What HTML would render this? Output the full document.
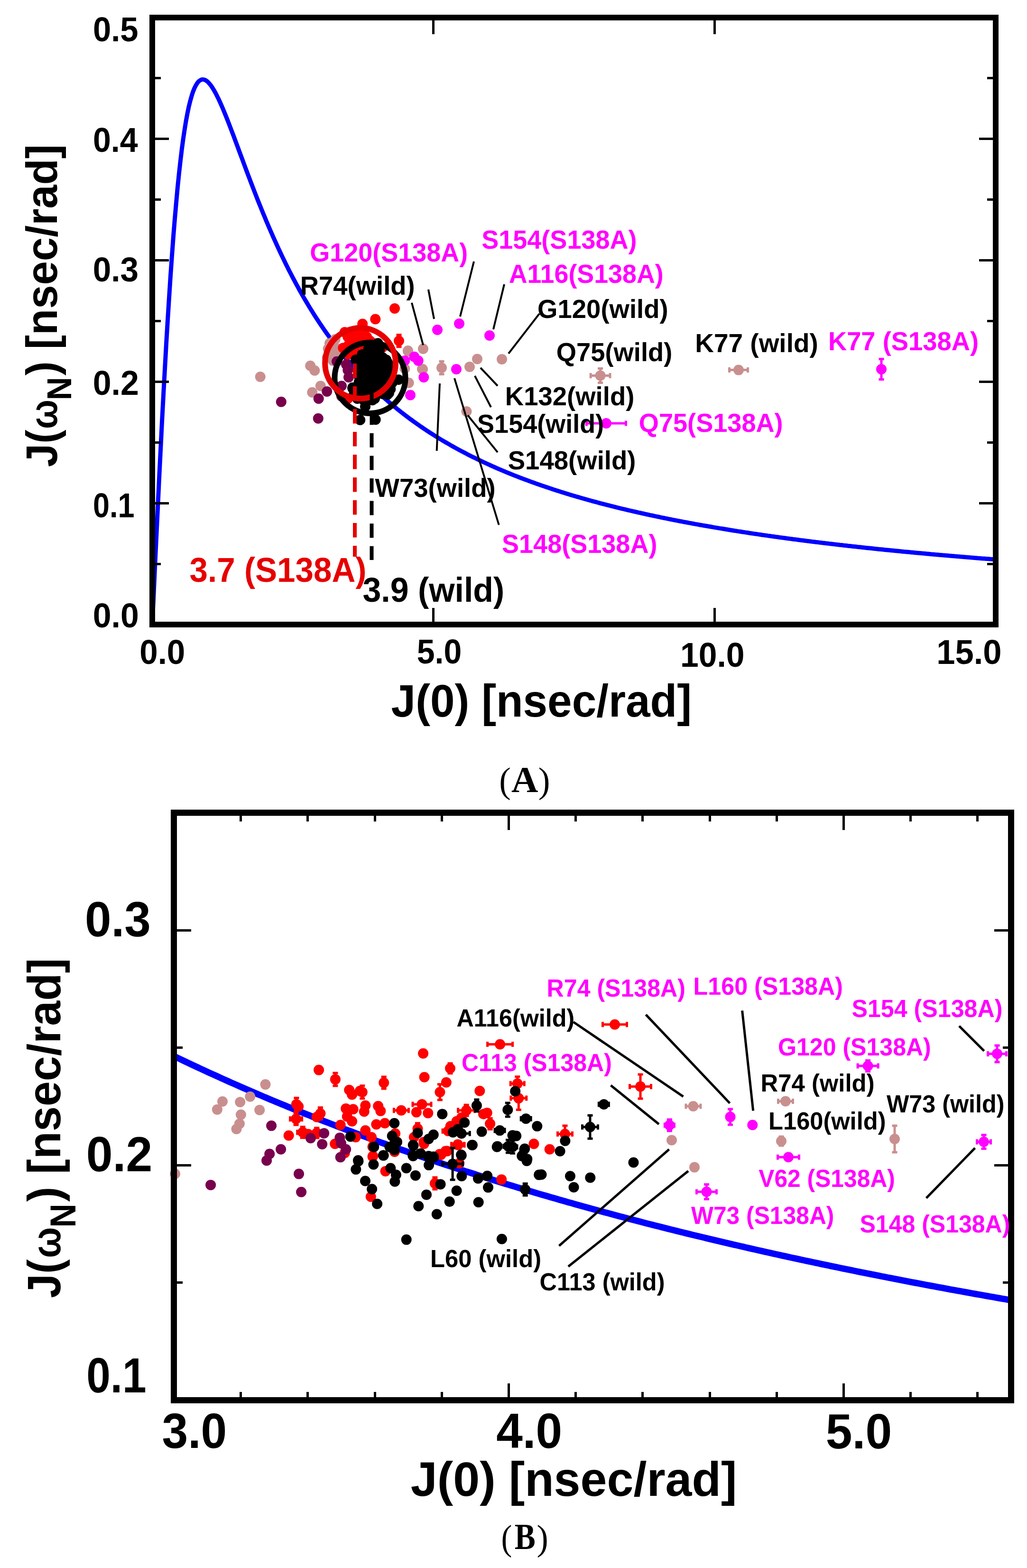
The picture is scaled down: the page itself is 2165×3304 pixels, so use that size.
<!DOCTYPE html>
<html><head><meta charset="utf-8"><title>Spectral density plots</title>
<style>
html,body{margin:0;padding:0;background:#fff;}
body{width:2165px;height:3304px;overflow:hidden;}
svg{display:block;}
text{font-family:"Liberation Sans",sans-serif;font-weight:bold;white-space:pre;}
.ser{font-family:"Liberation Serif",serif;font-weight:normal;}
.serb{font-family:"Liberation Serif",serif;font-weight:bold;}
</style></head><body>
<svg width="2165" height="3304" viewBox="0 0 2165 3304">
<rect width="2165" height="3304" fill="#fff"/>
<g id="plotA">
<clipPath id="clipA"><rect x="321.0" y="37.0" width="1778.0" height="1279.0"/></clipPath>
<polyline points="321.0,1316.0 324.0,1252.1 326.9,1188.5 329.9,1125.5 332.9,1063.3 335.8,1002.3 338.8,942.7 341.7,884.7 344.7,828.6 347.7,774.4 350.6,722.5 353.6,672.9 356.6,625.6 359.5,580.9 362.5,538.8 365.4,499.2 368.4,462.2 371.4,427.8 374.3,395.9 377.3,366.6 380.3,339.7 383.2,315.1 386.2,292.9 389.2,272.8 392.1,254.9 395.1,238.9 398.0,224.9 401.0,212.7 404.0,202.2 406.9,193.2 409.9,185.8 412.9,179.8 415.8,175.1 418.8,171.5 421.8,169.2 424.7,167.8 427.7,167.4 430.6,167.9 433.6,169.2 436.6,171.3 439.5,174.0 442.5,177.4 445.5,181.3 448.4,185.8 451.4,190.7 454.4,196.0 457.3,201.7 460.3,207.7 463.2,214.0 466.2,220.6 469.2,227.5 472.1,234.5 475.1,241.8 478.1,249.2 481.0,256.7 484.0,264.3 486.9,272.0 489.9,279.8 492.9,287.7 495.8,295.6 498.8,303.6 501.8,311.6 504.7,319.6 507.7,327.6 510.7,335.5 513.6,343.5 516.6,351.5 519.5,359.4 522.5,367.3 525.5,375.1 528.4,382.9 531.4,390.7 534.4,398.4 537.3,406.0 540.3,413.6 543.2,421.1 546.2,428.5 549.2,435.9 552.1,443.2 555.1,450.4 558.1,457.6 561.0,464.7 564.0,471.7 567.0,478.7 569.9,485.5 572.9,492.3 575.8,499.0 578.8,505.7 581.8,512.2 584.7,518.7 587.7,525.1 590.7,531.5 593.6,537.7 596.6,543.9 599.6,550.0 602.5,556.1 605.5,562.0 608.4,567.9 611.4,573.7 614.4,579.5 617.3,585.1 620.3,590.7 623.3,596.3 626.2,601.7 629.2,607.1 632.1,612.5 635.1,617.7 638.1,622.9 641.0,628.1 644.0,633.1 647.0,638.1 649.9,643.1 652.9,648.0 655.9,652.8 658.8,657.5 661.8,662.3 664.7,666.9 667.7,671.5 670.7,676.0 673.6,680.5 676.6,684.9 679.6,689.3 682.5,693.6 685.5,697.9 688.5,702.1 691.4,706.2 694.4,710.3 697.3,714.4 700.3,718.4 703.3,722.4 706.2,726.3 709.2,730.2 712.2,734.0 715.1,737.8 718.1,741.5 721.0,745.2 724.0,748.8 727.0,752.4 729.9,756.0 732.9,759.5 735.9,763.0 738.8,766.4 741.8,769.8 744.8,773.2 747.7,776.5 750.7,779.8 753.6,783.1 756.6,786.3 759.6,789.5 762.5,792.6 765.5,795.7 768.5,798.8 771.4,801.8 774.4,804.9 777.4,807.8 780.3,810.8 783.3,813.7 786.2,816.6 789.2,819.4 792.2,822.2 795.1,825.0 798.1,827.8 801.1,830.5 804.0,833.2 807.0,835.9 810.0,838.5 812.9,841.1 815.9,843.7 818.8,846.3 821.8,848.8 824.8,851.4 827.7,853.8 830.7,856.3 833.7,858.7 836.6,861.2 839.6,863.5 842.5,865.9 845.5,868.2 848.5,870.6 851.4,872.9 854.4,875.1 857.4,877.4 860.3,879.6 863.3,881.8 866.3,884.0 869.2,886.2 872.2,888.3 875.1,890.4 878.1,892.5 881.1,894.6 884.0,896.7 887.0,898.7 890.0,900.8 892.9,902.8 895.9,904.8 898.9,906.7 901.8,908.7 904.8,910.6 907.7,912.5 910.7,914.4 913.7,916.3 916.6,918.2 919.6,920.0 922.6,921.9 925.5,923.7 928.5,925.5 931.4,927.3 934.4,929.0 937.4,930.8 940.3,932.5 943.3,934.2 946.3,935.9 949.2,937.6 952.2,939.3 955.2,941.0 958.1,942.6 961.1,944.3 964.0,945.9 967.0,947.5 970.0,949.1 972.9,950.7 975.9,952.2 978.9,953.8 981.8,955.3 984.8,956.9 987.8,958.4 990.7,959.9 993.7,961.4 996.6,962.9 999.6,964.3 1002.6,965.8 1005.5,967.2 1008.5,968.7 1011.5,970.1 1014.4,971.5 1017.4,972.9 1020.3,974.3 1023.3,975.6 1026.3,977.0 1029.2,978.4 1032.2,979.7 1035.2,981.1 1038.1,982.4 1041.1,983.7 1044.1,985.0 1047.0,986.3 1050.0,987.6 1052.9,988.8 1055.9,990.1 1058.9,991.4 1061.8,992.6 1064.8,993.8 1067.8,995.1 1070.7,996.3 1073.7,997.5 1076.7,998.7 1079.6,999.9 1082.6,1001.1 1085.5,1002.3 1088.5,1003.4 1091.5,1004.6 1094.4,1005.7 1097.4,1006.9 1100.4,1008.0 1103.3,1009.1 1106.3,1010.2 1109.2,1011.3 1112.2,1012.4 1115.2,1013.5 1118.1,1014.6 1121.1,1015.7 1124.1,1016.8 1127.0,1017.8 1130.0,1018.9 1133.0,1019.9 1135.9,1021.0 1138.9,1022.0 1141.8,1023.0 1144.8,1024.1 1147.8,1025.1 1150.7,1026.1 1153.7,1027.1 1156.7,1028.1 1159.6,1029.0 1162.6,1030.0 1165.5,1031.0 1168.5,1032.0 1171.5,1032.9 1174.4,1033.9 1177.4,1034.8 1180.4,1035.8 1183.3,1036.7 1186.3,1037.6 1189.3,1038.5 1192.2,1039.5 1195.2,1040.4 1198.1,1041.3 1201.1,1042.2 1204.1,1043.1 1207.0,1044.0 1210.0,1044.8 1213.0,1045.7 1215.9,1046.6 1218.9,1047.4 1221.9,1048.3 1224.8,1049.2 1227.8,1050.0 1230.7,1050.8 1233.7,1051.7 1236.7,1052.5 1239.6,1053.3 1242.6,1054.2 1245.6,1055.0 1248.5,1055.8 1251.5,1056.6 1254.5,1057.4 1257.4,1058.2 1260.4,1059.0 1263.3,1059.8 1266.3,1060.6 1269.3,1061.3 1272.2,1062.1 1275.2,1062.9 1278.2,1063.7 1281.1,1064.4 1284.1,1065.2 1287.0,1065.9 1290.0,1066.7 1293.0,1067.4 1295.9,1068.1 1298.9,1068.9 1301.9,1069.6 1304.8,1070.3 1307.8,1071.1 1310.8,1071.8 1313.7,1072.5 1316.7,1073.2 1319.6,1073.9 1322.6,1074.6 1325.6,1075.3 1328.5,1076.0 1331.5,1076.7 1334.5,1077.4 1337.4,1078.0 1340.4,1078.7 1343.3,1079.4 1346.3,1080.1 1349.3,1080.7 1352.2,1081.4 1355.2,1082.0 1358.2,1082.7 1361.1,1083.3 1364.1,1084.0 1367.1,1084.6 1370.0,1085.3 1373.0,1085.9 1375.9,1086.5 1378.9,1087.2 1381.9,1087.8 1384.8,1088.4 1387.8,1089.0 1390.8,1089.7 1393.7,1090.3 1396.7,1090.9 1399.7,1091.5 1402.6,1092.1 1405.6,1092.7 1408.5,1093.3 1411.5,1093.9 1414.5,1094.5 1417.4,1095.1 1420.4,1095.7 1423.4,1096.2 1426.3,1096.8 1429.3,1097.4 1432.2,1098.0 1435.2,1098.5 1438.2,1099.1 1441.1,1099.7 1444.1,1100.2 1447.1,1100.8 1450.0,1101.3 1453.0,1101.9 1456.0,1102.4 1458.9,1103.0 1461.9,1103.5 1464.8,1104.1 1467.8,1104.6 1470.8,1105.1 1473.7,1105.7 1476.7,1106.2 1479.7,1106.7 1482.6,1107.3 1485.6,1107.8 1488.6,1108.3 1491.5,1108.8 1494.5,1109.3 1497.4,1109.8 1500.4,1110.3 1503.4,1110.9 1506.3,1111.4 1509.3,1111.9 1512.3,1112.4 1515.2,1112.9 1518.2,1113.4 1521.2,1113.8 1524.1,1114.3 1527.1,1114.8 1530.0,1115.3 1533.0,1115.8 1536.0,1116.3 1538.9,1116.8 1541.9,1117.2 1544.9,1117.7 1547.8,1118.2 1550.8,1118.6 1553.7,1119.1 1556.7,1119.6 1559.7,1120.0 1562.6,1120.5 1565.6,1121.0 1568.6,1121.4 1571.5,1121.9 1574.5,1122.3 1577.5,1122.8 1580.4,1123.2 1583.4,1123.7 1586.3,1124.1 1589.3,1124.6 1592.3,1125.0 1595.2,1125.4 1598.2,1125.9 1601.2,1126.3 1604.1,1126.7 1607.1,1127.2 1610.0,1127.6 1613.0,1128.0 1616.0,1128.4 1618.9,1128.9 1621.9,1129.3 1624.9,1129.7 1627.8,1130.1 1630.8,1130.5 1633.8,1131.0 1636.7,1131.4 1639.7,1131.8 1642.6,1132.2 1645.6,1132.6 1648.6,1133.0 1651.5,1133.4 1654.5,1133.8 1657.5,1134.2 1660.4,1134.6 1663.4,1135.0 1666.4,1135.4 1669.3,1135.8 1672.3,1136.2 1675.2,1136.5 1678.2,1136.9 1681.2,1137.3 1684.1,1137.7 1687.1,1138.1 1690.1,1138.5 1693.0,1138.8 1696.0,1139.2 1699.0,1139.6 1701.9,1140.0 1704.9,1140.3 1707.8,1140.7 1710.8,1141.1 1713.8,1141.5 1716.7,1141.8 1719.7,1142.2 1722.7,1142.5 1725.6,1142.9 1728.6,1143.3 1731.5,1143.6 1734.5,1144.0 1737.5,1144.3 1740.4,1144.7 1743.4,1145.0 1746.4,1145.4 1749.3,1145.8 1752.3,1146.1 1755.3,1146.4 1758.2,1146.8 1761.2,1147.1 1764.1,1147.5 1767.1,1147.8 1770.1,1148.2 1773.0,1148.5 1776.0,1148.8 1779.0,1149.2 1781.9,1149.5 1784.9,1149.8 1787.8,1150.2 1790.8,1150.5 1793.8,1150.8 1796.7,1151.2 1799.7,1151.5 1802.7,1151.8 1805.6,1152.1 1808.6,1152.5 1811.6,1152.8 1814.5,1153.1 1817.5,1153.4 1820.4,1153.7 1823.4,1154.1 1826.4,1154.4 1829.3,1154.7 1832.3,1155.0 1835.3,1155.3 1838.2,1155.6 1841.2,1155.9 1844.2,1156.2 1847.1,1156.6 1850.1,1156.9 1853.0,1157.2 1856.0,1157.5 1859.0,1157.8 1861.9,1158.1 1864.9,1158.4 1867.9,1158.7 1870.8,1159.0 1873.8,1159.3 1876.8,1159.6 1879.7,1159.9 1882.7,1160.1 1885.6,1160.4 1888.6,1160.7 1891.6,1161.0 1894.5,1161.3 1897.5,1161.6 1900.5,1161.9 1903.4,1162.2 1906.4,1162.5 1909.3,1162.7 1912.3,1163.0 1915.3,1163.3 1918.2,1163.6 1921.2,1163.9 1924.2,1164.1 1927.1,1164.4 1930.1,1164.7 1933.1,1165.0 1936.0,1165.2 1939.0,1165.5 1941.9,1165.8 1944.9,1166.1 1947.9,1166.3 1950.8,1166.6 1953.8,1166.9 1956.8,1167.1 1959.7,1167.4 1962.7,1167.7 1965.7,1167.9 1968.6,1168.2 1971.6,1168.5 1974.5,1168.7 1977.5,1169.0 1980.5,1169.3 1983.4,1169.5 1986.4,1169.8 1989.4,1170.0 1992.3,1170.3 1995.3,1170.5 1998.2,1170.8 2001.2,1171.1 2004.2,1171.3 2007.1,1171.6 2010.1,1171.8 2013.1,1172.1 2016.0,1172.3 2019.0,1172.6 2022.0,1172.8 2024.9,1173.1 2027.9,1173.3 2030.8,1173.5 2033.8,1173.8 2036.8,1174.0 2039.7,1174.3 2042.7,1174.5 2045.7,1174.8 2048.6,1175.0 2051.6,1175.2 2054.6,1175.5 2057.5,1175.7 2060.5,1176.0 2063.4,1176.2 2066.4,1176.4 2069.4,1176.7 2072.3,1176.9 2075.3,1177.1 2078.3,1177.4 2081.2,1177.6 2084.2,1177.8 2087.1,1178.1 2090.1,1178.3 2093.1,1178.5 2096.0,1178.7 2099.0,1179.0" fill="none" stroke="#0000ff" stroke-width="9" stroke-linejoin="round" clip-path="url(#clipA)"/>
<circle cx="892.0" cy="735.0" r="11" fill="#c98f8f"/>
<circle cx="860.0" cy="739.0" r="11" fill="#c98f8f"/>
<circle cx="891.0" cy="778.0" r="11" fill="#c98f8f"/>
<path d="M931.0 761.5V788.5M925.5 761.5H936.5M925.5 788.5H936.5" stroke="#c98f8f" stroke-width="5" fill="none"/>
<circle cx="931.0" cy="775.0" r="11" fill="#c98f8f"/>
<circle cx="990.0" cy="773.0" r="11" fill="#c98f8f"/>
<circle cx="1006.0" cy="756.5" r="11" fill="#c98f8f"/>
<circle cx="1058.0" cy="757.0" r="11" fill="#c98f8f"/>
<circle cx="983.5" cy="867.0" r="11" fill="#c98f8f"/>
<path d="M1245.2 791.4H1286.0M1245.2 785.9V796.9M1286.0 785.9V796.9" stroke="#c98f8f" stroke-width="5" fill="none"/>
<path d="M1265.6 776.4V806.4M1260.1 776.4H1271.1M1260.1 806.4H1271.1" stroke="#c98f8f" stroke-width="5" fill="none"/>
<circle cx="1265.6" cy="791.4" r="11" fill="#c98f8f"/>
<path d="M1537.5 779.6H1576.5M1537.5 774.1V785.1M1576.5 774.1V785.1" stroke="#c98f8f" stroke-width="5" fill="none"/>
<circle cx="1557.0" cy="779.6" r="11" fill="#c98f8f"/>
<circle cx="706.7" cy="715.0" r="11" fill="#c98f8f"/>
<circle cx="691.7" cy="735.0" r="11" fill="#c98f8f"/>
<circle cx="701.7" cy="760.0" r="11" fill="#c98f8f"/>
<circle cx="654.2" cy="770.8" r="11" fill="#c98f8f"/>
<circle cx="663.3" cy="780.8" r="11" fill="#c98f8f"/>
<circle cx="675.8" cy="813.3" r="11" fill="#c98f8f"/>
<circle cx="658.3" cy="826.7" r="11" fill="#c98f8f"/>
<circle cx="860.0" cy="740.0" r="11" fill="#c98f8f"/>
<circle cx="853.3" cy="776.7" r="11" fill="#c98f8f"/>
<circle cx="890.0" cy="777.5" r="11" fill="#c98f8f"/>
<circle cx="861.7" cy="806.7" r="11" fill="#c98f8f"/>
<circle cx="548.7" cy="794.0" r="11" fill="#c98f8f"/>
<circle cx="711.7" cy="735.0" r="11" fill="#c98f8f"/>
<circle cx="706.7" cy="746.7" r="11" fill="#c98f8f"/>
<circle cx="695.0" cy="723.3" r="11" fill="#c98f8f"/>
<circle cx="690.0" cy="753.3" r="11" fill="#c98f8f"/>
<circle cx="832.0" cy="650.0" r="11" fill="#ff0000"/>
<path d="M841.0 705.8V730.8M835.5 705.8H846.5M835.5 730.8H846.5" stroke="#ff0000" stroke-width="5" fill="none"/>
<circle cx="841.0" cy="718.3" r="11" fill="#ff0000"/>
<circle cx="764.2" cy="682.5" r="11" fill="#ff0000"/>
<circle cx="791.3" cy="672.5" r="11" fill="#ff0000"/>
<circle cx="726.7" cy="700.0" r="11" fill="#ff0000"/>
<circle cx="740.0" cy="715.0" r="11" fill="#ff0000"/>
<circle cx="756.7" cy="710.0" r="11" fill="#ff0000"/>
<circle cx="773.3" cy="710.0" r="11" fill="#ff0000"/>
<circle cx="723.3" cy="733.3" r="11" fill="#ff0000"/>
<circle cx="735.0" cy="726.7" r="11" fill="#ff0000"/>
<circle cx="765.0" cy="726.7" r="11" fill="#ff0000"/>
<circle cx="748.3" cy="740.0" r="11" fill="#ff0000"/>
<circle cx="733.3" cy="840.0" r="11" fill="#ff0000"/>
<circle cx="786.7" cy="723.3" r="11" fill="#ff0000"/>
<circle cx="806.7" cy="731.7" r="11" fill="#ff0000"/>
<circle cx="790.0" cy="801.7" r="11" fill="#ff0000"/>
<circle cx="733.3" cy="710.0" r="11" fill="#ff0000"/>
<circle cx="746.7" cy="701.7" r="11" fill="#ff0000"/>
<circle cx="766.7" cy="698.3" r="11" fill="#ff0000"/>
<circle cx="780.0" cy="718.3" r="11" fill="#ff0000"/>
<circle cx="753.3" cy="723.3" r="11" fill="#ff0000"/>
<circle cx="733.3" cy="746.7" r="11" fill="#ff0000"/>
<circle cx="743.3" cy="731.7" r="11" fill="#ff0000"/>
<circle cx="710.0" cy="761.7" r="11" fill="#78004c"/>
<circle cx="730.0" cy="768.3" r="11" fill="#78004c"/>
<circle cx="733.3" cy="780.0" r="11" fill="#78004c"/>
<circle cx="735.0" cy="795.0" r="11" fill="#78004c"/>
<circle cx="720.0" cy="813.3" r="11" fill="#78004c"/>
<circle cx="689.2" cy="825.0" r="11" fill="#78004c"/>
<circle cx="671.7" cy="840.0" r="11" fill="#78004c"/>
<circle cx="670.8" cy="881.7" r="11" fill="#78004c"/>
<circle cx="720.0" cy="835.0" r="11" fill="#78004c"/>
<circle cx="592.8" cy="846.7" r="11" fill="#78004c"/>
<circle cx="922.0" cy="695.0" r="11" fill="#ff00ff"/>
<circle cx="968.0" cy="682.0" r="11" fill="#ff00ff"/>
<circle cx="1032.0" cy="707.0" r="11" fill="#ff00ff"/>
<circle cx="962.0" cy="778.0" r="11" fill="#ff00ff"/>
<path d="M1236.5 892.0H1319.5M1236.5 886.5V897.5M1319.5 886.5V897.5" stroke="#ff00ff" stroke-width="5" fill="none"/>
<circle cx="1278.0" cy="892.0" r="11" fill="#ff00ff"/>
<path d="M1858.0 756.5V799.5M1852.5 756.5H1863.5M1852.5 799.5H1863.5" stroke="#ff00ff" stroke-width="5" fill="none"/>
<circle cx="1858.0" cy="778.0" r="11" fill="#ff00ff"/>
<circle cx="853.3" cy="760.0" r="11" fill="#ff00ff"/>
<circle cx="873.3" cy="751.7" r="11" fill="#ff00ff"/>
<circle cx="881.7" cy="760.0" r="11" fill="#ff00ff"/>
<circle cx="893.3" cy="795.0" r="11" fill="#ff00ff"/>
<circle cx="865.0" cy="832.5" r="11" fill="#ff00ff"/>
<circle cx="796.7" cy="723.3" r="11" fill="#000000"/>
<circle cx="766.7" cy="746.7" r="11" fill="#000000"/>
<circle cx="750.0" cy="758.3" r="11" fill="#000000"/>
<circle cx="783.3" cy="740.0" r="11" fill="#000000"/>
<circle cx="800.0" cy="738.3" r="11" fill="#000000"/>
<circle cx="806.7" cy="753.3" r="11" fill="#000000"/>
<circle cx="756.7" cy="773.3" r="11" fill="#000000"/>
<circle cx="773.3" cy="763.3" r="11" fill="#000000"/>
<circle cx="790.0" cy="760.0" r="11" fill="#000000"/>
<circle cx="806.7" cy="768.3" r="11" fill="#000000"/>
<circle cx="816.7" cy="763.3" r="11" fill="#000000"/>
<circle cx="760.0" cy="790.0" r="11" fill="#000000"/>
<circle cx="776.7" cy="783.3" r="11" fill="#000000"/>
<circle cx="793.3" cy="780.0" r="11" fill="#000000"/>
<circle cx="810.0" cy="786.7" r="11" fill="#000000"/>
<circle cx="816.7" cy="776.7" r="11" fill="#000000"/>
<circle cx="756.7" cy="806.7" r="11" fill="#000000"/>
<circle cx="773.3" cy="803.3" r="11" fill="#000000"/>
<circle cx="796.7" cy="793.3" r="11" fill="#000000"/>
<circle cx="806.7" cy="803.3" r="11" fill="#000000"/>
<circle cx="743.3" cy="818.3" r="11" fill="#000000"/>
<circle cx="760.0" cy="823.3" r="11" fill="#000000"/>
<circle cx="776.7" cy="820.0" r="11" fill="#000000"/>
<circle cx="796.7" cy="816.7" r="11" fill="#000000"/>
<circle cx="813.3" cy="816.7" r="11" fill="#000000"/>
<circle cx="753.3" cy="836.7" r="11" fill="#000000"/>
<circle cx="766.7" cy="843.3" r="11" fill="#000000"/>
<circle cx="785.0" cy="843.3" r="11" fill="#000000"/>
<circle cx="806.7" cy="830.0" r="11" fill="#000000"/>
<circle cx="823.3" cy="820.0" r="11" fill="#000000"/>
<circle cx="840.0" cy="800.0" r="11" fill="#000000"/>
<circle cx="816.7" cy="831.7" r="11" fill="#000000"/>
<circle cx="759.2" cy="885.0" r="11" fill="#000000"/>
<circle cx="791.7" cy="884.2" r="11" fill="#000000"/>
<circle cx="770.0" cy="856.7" r="11" fill="#000000"/>
<circle cx="826.7" cy="806.7" r="11" fill="#000000"/>
<circle cx="776.7" cy="735.0" r="11" fill="#000000"/>
<circle cx="785.8" cy="735.0" r="11" fill="#000000"/>
<circle cx="795.0" cy="735.0" r="11" fill="#000000"/>
<circle cx="763.3" cy="746.7" r="11" fill="#000000"/>
<circle cx="772.5" cy="746.7" r="11" fill="#000000"/>
<circle cx="781.7" cy="746.7" r="11" fill="#000000"/>
<circle cx="790.8" cy="746.7" r="11" fill="#000000"/>
<circle cx="800.0" cy="746.7" r="11" fill="#000000"/>
<circle cx="750.0" cy="758.3" r="11" fill="#000000"/>
<circle cx="759.2" cy="758.3" r="11" fill="#000000"/>
<circle cx="768.3" cy="758.3" r="11" fill="#000000"/>
<circle cx="777.5" cy="758.3" r="11" fill="#000000"/>
<circle cx="786.7" cy="758.3" r="11" fill="#000000"/>
<circle cx="795.8" cy="758.3" r="11" fill="#000000"/>
<circle cx="805.0" cy="758.3" r="11" fill="#000000"/>
<circle cx="814.2" cy="758.3" r="11" fill="#000000"/>
<circle cx="756.7" cy="770.0" r="11" fill="#000000"/>
<circle cx="765.8" cy="770.0" r="11" fill="#000000"/>
<circle cx="775.0" cy="770.0" r="11" fill="#000000"/>
<circle cx="784.2" cy="770.0" r="11" fill="#000000"/>
<circle cx="793.3" cy="770.0" r="11" fill="#000000"/>
<circle cx="802.5" cy="770.0" r="11" fill="#000000"/>
<circle cx="811.7" cy="770.0" r="11" fill="#000000"/>
<circle cx="820.8" cy="770.0" r="11" fill="#000000"/>
<circle cx="756.7" cy="781.7" r="11" fill="#000000"/>
<circle cx="765.8" cy="781.7" r="11" fill="#000000"/>
<circle cx="775.0" cy="781.7" r="11" fill="#000000"/>
<circle cx="784.2" cy="781.7" r="11" fill="#000000"/>
<circle cx="793.3" cy="781.7" r="11" fill="#000000"/>
<circle cx="802.5" cy="781.7" r="11" fill="#000000"/>
<circle cx="811.7" cy="781.7" r="11" fill="#000000"/>
<circle cx="820.8" cy="781.7" r="11" fill="#000000"/>
<circle cx="756.7" cy="793.3" r="11" fill="#000000"/>
<circle cx="765.8" cy="793.3" r="11" fill="#000000"/>
<circle cx="775.0" cy="793.3" r="11" fill="#000000"/>
<circle cx="784.2" cy="793.3" r="11" fill="#000000"/>
<circle cx="793.3" cy="793.3" r="11" fill="#000000"/>
<circle cx="802.5" cy="793.3" r="11" fill="#000000"/>
<circle cx="811.7" cy="793.3" r="11" fill="#000000"/>
<circle cx="756.7" cy="805.0" r="11" fill="#000000"/>
<circle cx="765.8" cy="805.0" r="11" fill="#000000"/>
<circle cx="775.0" cy="805.0" r="11" fill="#000000"/>
<circle cx="784.2" cy="805.0" r="11" fill="#000000"/>
<circle cx="793.3" cy="805.0" r="11" fill="#000000"/>
<circle cx="802.5" cy="805.0" r="11" fill="#000000"/>
<circle cx="743.3" cy="816.7" r="11" fill="#000000"/>
<circle cx="752.5" cy="816.7" r="11" fill="#000000"/>
<circle cx="761.7" cy="816.7" r="11" fill="#000000"/>
<circle cx="770.8" cy="816.7" r="11" fill="#000000"/>
<circle cx="780.0" cy="816.7" r="11" fill="#000000"/>
<circle cx="789.2" cy="816.7" r="11" fill="#000000"/>
<circle cx="798.3" cy="816.7" r="11" fill="#000000"/>
<circle cx="807.5" cy="816.7" r="11" fill="#000000"/>
<circle cx="816.7" cy="816.7" r="11" fill="#000000"/>
<circle cx="746.7" cy="828.3" r="11" fill="#000000"/>
<circle cx="755.8" cy="828.3" r="11" fill="#000000"/>
<circle cx="765.0" cy="828.3" r="11" fill="#000000"/>
<circle cx="774.2" cy="828.3" r="11" fill="#000000"/>
<circle cx="783.3" cy="828.3" r="11" fill="#000000"/>
<circle cx="792.5" cy="828.3" r="11" fill="#000000"/>
<circle cx="801.7" cy="828.3" r="11" fill="#000000"/>
<circle cx="810.8" cy="828.3" r="11" fill="#000000"/>
<circle cx="820.0" cy="828.3" r="11" fill="#000000"/>
<circle cx="753.3" cy="840.0" r="11" fill="#000000"/>
<circle cx="762.5" cy="840.0" r="11" fill="#000000"/>
<circle cx="771.7" cy="840.0" r="11" fill="#000000"/>
<circle cx="780.8" cy="840.0" r="11" fill="#000000"/>
<circle cx="790.0" cy="840.0" r="11" fill="#000000"/>
<line x1="868" y1="638" x2="892" y2="727" stroke="#000" stroke-width="4"/>
<line x1="903" y1="610" x2="915" y2="672" stroke="#000" stroke-width="4"/>
<line x1="999" y1="551" x2="970" y2="667" stroke="#000" stroke-width="4"/>
<line x1="1063" y1="599" x2="1040" y2="694" stroke="#000" stroke-width="4"/>
<line x1="1137" y1="661" x2="1072" y2="745" stroke="#000" stroke-width="4"/>
<line x1="1013" y1="775" x2="1049" y2="813" stroke="#000" stroke-width="4"/>
<line x1="1001" y1="792" x2="1035" y2="858" stroke="#000" stroke-width="4"/>
<line x1="927" y1="808" x2="920.7" y2="950" stroke="#000" stroke-width="4"/>
<line x1="958" y1="797" x2="1051.7" y2="1106" stroke="#000" stroke-width="4"/>
<line x1="986" y1="875" x2="1049" y2="953" stroke="#000" stroke-width="4"/>
<circle cx="780" cy="796.3" r="74.6" fill="none" stroke="#000" stroke-width="12"/>
<circle cx="759.6" cy="765.4" r="74.4" fill="none" stroke="#e60000" stroke-width="12"/>
<line x1="783.5" y1="817.6" x2="783.5" y2="1180" stroke="#000" stroke-width="8" stroke-dasharray="30 17.6"/>
<line x1="748" y1="766" x2="748" y2="1173" stroke="#e60000" stroke-width="8" stroke-dasharray="30.5 17.5"/>
<rect x="321.0" y="37.0" width="1778.0" height="1279.0" fill="none" stroke="#000" stroke-width="12" shape-rendering="crispEdges"/>
<path d="M321.0 1188.1h18M2099.0 1188.1h-18M321.0 1060.2h35M2099.0 1060.2h-35M321.0 932.3h18M2099.0 932.3h-18M321.0 804.4h35M2099.0 804.4h-35M321.0 676.5h18M2099.0 676.5h-18M321.0 548.6h35M2099.0 548.6h-35M321.0 420.7h18M2099.0 420.7h-18M321.0 292.8h35M2099.0 292.8h-35M321.0 164.9h18M2099.0 164.9h-18M913.7 1316.0v-35M913.7 37.0v35M1506.3 1316.0v-35M1506.3 37.0v35" stroke="#000" stroke-width="5" fill="none" shape-rendering="crispEdges"/>
<text transform="translate(195.9,87.3) scale(0.9478,1)" font-size="72.6" fill="#000">0.5</text>
<text transform="translate(195.9,319.6) scale(0.9381,1)" font-size="72.6" fill="#000">0.4</text>
<text transform="translate(195.8,593.0) scale(0.9542,1)" font-size="72.6" fill="#000">0.3</text>
<text transform="translate(195.7,831.7) scale(0.9621,1)" font-size="72.6" fill="#000">0.2</text>
<text transform="translate(196.0,1090.0) scale(0.8676,1)" font-size="72.6" fill="#000">0.1</text>
<text transform="translate(195.7,1322.3) scale(0.9621,1)" font-size="72.6" fill="#000">0.0</text>
<text transform="translate(294.2,1398.7) scale(0.9526,1)" font-size="72.6" fill="#000">0.0</text>
<text transform="translate(878.8,1398.0) scale(0.9360,1)" font-size="72.6" fill="#000">5.0</text>
<text transform="translate(1433.9,1404.7) scale(0.9599,1)" font-size="72.6" fill="#000">10.0</text>
<text transform="translate(1974.3,1398.5) scale(0.9718,1)" font-size="72.6" fill="#000">15.0</text>
<text transform="translate(824.6,1509.5) scale(0.9613,1)" font-size="96.4" fill="#000">J(0) [nsec/rad]</text>
<text transform="translate(120.0,984.0) rotate(-90) scale(0.9454,1)" font-size="93.5" fill="#000">J(</text>
<text transform="translate(120.2,903.9) rotate(-90) scale(0.9087,1)" font-size="80.7" fill="#000">ω</text>
<text transform="translate(149.9,843.3) rotate(-90) scale(0.9295,1)" font-size="72.7" fill="#000">N</text>
<text transform="translate(120.0,791.2) rotate(-90) scale(0.9665,1)" font-size="93.5" fill="#000">) [nsec/rad]</text>
<text class="ser" transform="translate(1052.3,1669.8) scale(0.9697,1)" font-size="76.0" fill="#000">(</text>
<text class="serb" transform="translate(1077.9,1668.5) scale(1.0016,1)" font-size="78.0" fill="#000">A</text>
<text class="ser" transform="translate(1134.8,1669.8) scale(0.9807,1)" font-size="76.0" fill="#000">)</text>
<text transform="translate(653.2,550.5) scale(0.9639,1)" font-size="56" fill="#ff00ff">G120(S138A)</text>
<text transform="translate(632.8,621.0) scale(0.9718,1)" font-size="56" fill="#000">R74(wild)</text>
<text transform="translate(1015.2,524.3) scale(0.9649,1)" font-size="56" fill="#ff00ff">S154(S138A)</text>
<text transform="translate(1072.7,596.2) scale(0.9613,1)" font-size="56" fill="#ff00ff">A116(S138A)</text>
<text transform="translate(1133.1,669.6) scale(0.9731,1)" font-size="56" fill="#000">G120(wild)</text>
<text transform="translate(1172.8,760.8) scale(0.9702,1)" font-size="56" fill="#000">Q75(wild)</text>
<text transform="translate(1465.3,741.5) scale(0.9811,1)" font-size="56" fill="#000">K77 (wild)</text>
<text transform="translate(1745.9,737.7) scale(0.9707,1)" font-size="56" fill="#ff00ff">K77 (S138A)</text>
<text transform="translate(1064.8,853.8) scale(0.9732,1)" font-size="56" fill="#000">K132(wild)</text>
<text transform="translate(1006.1,911.5) scale(0.9642,1)" font-size="56" fill="#000">S154(wild)</text>
<text transform="translate(1346.8,909.6) scale(0.9668,1)" font-size="56" fill="#ff00ff">Q75(S138A)</text>
<text transform="translate(1070.7,988.5) scale(0.9742,1)" font-size="56" fill="#000">S148(wild)</text>
<text transform="translate(790.5,1046.5) scale(0.9725,1)" font-size="56" fill="#000">W73(wild)</text>
<text transform="translate(1058.0,1165.4) scale(0.9652,1)" font-size="56" fill="#ff00ff">S148(S138A)</text>
<text transform="translate(399.6,1226.3) scale(0.9607,1)" font-size="72" fill="#e60000">3.7 (S138A)</text>
<text transform="translate(764.4,1268.2) scale(0.9704,1)" font-size="72" fill="#000">3.9 (wild)</text>
</g>
<g id="plotB">
<clipPath id="clipB"><rect x="366.5" y="1712.5" width="1765.0" height="1238.0"/></clipPath>
<polyline points="295.9,2190.4 302.3,2193.6 308.6,2196.8 315.0,2200.0 321.3,2203.2 327.7,2206.3 334.0,2209.5 340.4,2212.6 346.7,2215.7 353.1,2218.8 359.4,2221.9 365.8,2224.9 372.1,2228.0 378.5,2231.0 384.9,2234.1 391.2,2237.1 397.6,2240.1 403.9,2243.1 410.3,2246.1 416.6,2249.0 423.0,2252.0 429.3,2254.9 435.7,2257.8 442.0,2260.8 448.4,2263.7 454.8,2266.5 461.1,2269.4 467.5,2272.3 473.8,2275.1 480.2,2278.0 486.5,2280.8 492.9,2283.6 499.2,2286.4 505.6,2289.2 511.9,2292.0 518.3,2294.7 524.6,2297.5 531.0,2300.2 537.4,2303.0 543.7,2305.7 550.1,2308.4 556.4,2311.1 562.8,2313.8 569.1,2316.4 575.5,2319.1 581.8,2321.7 588.2,2324.4 594.5,2327.0 600.9,2329.6 607.2,2332.2 613.6,2334.8 620.0,2337.4 626.3,2340.0 632.7,2342.5 639.0,2345.1 645.4,2347.6 651.7,2350.1 658.1,2352.7 664.4,2355.2 670.8,2357.7 677.1,2360.2 683.5,2362.6 689.8,2365.1 696.2,2367.5 702.6,2370.0 708.9,2372.4 715.3,2374.9 721.6,2377.3 728.0,2379.7 734.3,2382.1 740.7,2384.4 747.0,2386.8 753.4,2389.2 759.7,2391.5 766.1,2393.9 772.4,2396.2 778.8,2398.6 785.2,2400.9 791.5,2403.2 797.9,2405.5 804.2,2407.8 810.6,2410.0 816.9,2412.3 823.3,2414.6 829.6,2416.8 836.0,2419.1 842.3,2421.3 848.7,2423.5 855.1,2425.7 861.4,2428.0 867.8,2430.2 874.1,2432.3 880.5,2434.5 886.8,2436.7 893.2,2438.9 899.5,2441.0 905.9,2443.2 912.2,2445.3 918.6,2447.4 924.9,2449.5 931.3,2451.7 937.7,2453.8 944.0,2455.9 950.4,2457.9 956.7,2460.0 963.1,2462.1 969.4,2464.2 975.8,2466.2 982.1,2468.3 988.5,2470.3 994.8,2472.3 1001.2,2474.3 1007.5,2476.4 1013.9,2478.4 1020.3,2480.4 1026.6,2482.4 1033.0,2484.3 1039.3,2486.3 1045.7,2488.3 1052.0,2490.3 1058.4,2492.2 1064.7,2494.2 1071.1,2496.1 1077.4,2498.0 1083.8,2499.9 1090.1,2501.9 1096.5,2503.8 1102.9,2505.7 1109.2,2507.6 1115.6,2509.5 1121.9,2511.3 1128.3,2513.2 1134.6,2515.1 1141.0,2516.9 1147.3,2518.8 1153.7,2520.6 1160.0,2522.5 1166.4,2524.3 1172.8,2526.1 1179.1,2527.9 1185.5,2529.8 1191.8,2531.6 1198.2,2533.4 1204.5,2535.1 1210.9,2536.9 1217.2,2538.7 1223.6,2540.5 1229.9,2542.2 1236.3,2544.0 1242.6,2545.8 1249.0,2547.5 1255.4,2549.2 1261.7,2551.0 1268.1,2552.7 1274.4,2554.4 1280.8,2556.1 1287.1,2557.8 1293.5,2559.5 1299.8,2561.2 1306.2,2562.9 1312.5,2564.6 1318.9,2566.3 1325.2,2568.0 1331.6,2569.6 1338.0,2571.3 1344.3,2572.9 1350.7,2574.6 1357.0,2576.2 1363.4,2577.9 1369.7,2579.5 1376.1,2581.1 1382.4,2582.7 1388.8,2584.3 1395.1,2585.9 1401.5,2587.5 1407.8,2589.1 1414.2,2590.7 1420.6,2592.3 1426.9,2593.9 1433.3,2595.5 1439.6,2597.0 1446.0,2598.6 1452.3,2600.1 1458.7,2601.7 1465.0,2603.2 1471.4,2604.8 1477.7,2606.3 1484.1,2607.8 1490.5,2609.4 1496.8,2610.9 1503.2,2612.4 1509.5,2613.9 1515.9,2615.4 1522.2,2616.9 1528.6,2618.4 1534.9,2619.9 1541.3,2621.4 1547.6,2622.8 1554.0,2624.3 1560.3,2625.8 1566.7,2627.2 1573.1,2628.7 1579.4,2630.1 1585.8,2631.6 1592.1,2633.0 1598.5,2634.5 1604.8,2635.9 1611.2,2637.3 1617.5,2638.8 1623.9,2640.2 1630.2,2641.6 1636.6,2643.0 1642.9,2644.4 1649.3,2645.8 1655.7,2647.2 1662.0,2648.6 1668.4,2650.0 1674.7,2651.3 1681.1,2652.7 1687.4,2654.1 1693.8,2655.5 1700.1,2656.8 1706.5,2658.2 1712.8,2659.5 1719.2,2660.9 1725.5,2662.2 1731.9,2663.6 1738.3,2664.9 1744.6,2666.2 1751.0,2667.6 1757.3,2668.9 1763.7,2670.2 1770.0,2671.5 1776.4,2672.8 1782.7,2674.1 1789.1,2675.4 1795.4,2676.7 1801.8,2678.0 1808.2,2679.3 1814.5,2680.6 1820.9,2681.9 1827.2,2683.1 1833.6,2684.4 1839.9,2685.7 1846.3,2686.9 1852.6,2688.2 1859.0,2689.5 1865.3,2690.7 1871.7,2692.0 1878.0,2693.2 1884.4,2694.4 1890.8,2695.7 1897.1,2696.9 1903.5,2698.1 1909.8,2699.4 1916.2,2700.6 1922.5,2701.8 1928.9,2703.0 1935.2,2704.2 1941.6,2705.4 1947.9,2706.6 1954.3,2707.8 1960.6,2709.0 1967.0,2710.2 1973.4,2711.4 1979.7,2712.6 1986.1,2713.7 1992.4,2714.9 1998.8,2716.1 2005.1,2717.3 2011.5,2718.4 2017.8,2719.6 2024.2,2720.7 2030.5,2721.9 2036.9,2723.0 2043.2,2724.2 2049.6,2725.3 2056.0,2726.5 2062.3,2727.6 2068.7,2728.7 2075.0,2729.9 2081.4,2731.0 2087.7,2732.1 2094.1,2733.2 2100.4,2734.4 2106.8,2735.5 2113.1,2736.6 2119.5,2737.7 2125.9,2738.8 2132.2,2739.9 2138.6,2741.0 2144.9,2742.1 2151.3,2743.2 2157.6,2744.2 2164.0,2745.3 2170.3,2746.4 2176.7,2747.5 2183.0,2748.5 2189.4,2749.6 2195.7,2750.7 2202.1,2751.7" fill="none" stroke="#0000ff" stroke-width="13.5" stroke-linejoin="round" clip-path="url(#clipB)"/>
<g clip-path="url(#clipB)">
</g>
<circle cx="559.5" cy="2285.1" r="11" fill="#c98f8f"/>
<circle cx="527.2" cy="2310.8" r="11" fill="#c98f8f"/>
<circle cx="469.0" cy="2321.0" r="11" fill="#c98f8f"/>
<circle cx="506.2" cy="2322.3" r="11" fill="#c98f8f"/>
<circle cx="457.9" cy="2337.9" r="11" fill="#c98f8f"/>
<circle cx="547.2" cy="2339.0" r="11" fill="#c98f8f"/>
<circle cx="507.9" cy="2348.7" r="11" fill="#c98f8f"/>
<circle cx="504.9" cy="2367.9" r="11" fill="#c98f8f"/>
<circle cx="498.5" cy="2379.0" r="11" fill="#c98f8f"/>
<circle cx="369.0" cy="2473.5" r="11" fill="#c98f8f"/>
<path d="M1445.9 2331.0H1476.9M1445.9 2325.5V2336.5M1476.9 2325.5V2336.5" stroke="#c98f8f" stroke-width="5" fill="none"/>
<circle cx="1461.4" cy="2331.0" r="11" fill="#c98f8f"/>
<circle cx="1416.0" cy="2402.5" r="11" fill="#c98f8f"/>
<circle cx="1464.0" cy="2459.6" r="11" fill="#c98f8f"/>
<path d="M1640.5 2320.5H1671.5M1640.5 2315.0V2326.0M1671.5 2315.0V2326.0" stroke="#c98f8f" stroke-width="5" fill="none"/>
<circle cx="1656.0" cy="2320.5" r="11" fill="#c98f8f"/>
<path d="M1647.0 2395.0V2414.0M1641.5 2395.0H1652.5M1641.5 2414.0H1652.5" stroke="#c98f8f" stroke-width="5" fill="none"/>
<circle cx="1647.0" cy="2404.5" r="11" fill="#c98f8f"/>
<path d="M1886.0 2372.0V2428.0M1880.5 2372.0H1891.5M1880.5 2428.0H1891.5" stroke="#c98f8f" stroke-width="5" fill="none"/>
<circle cx="1886.0" cy="2400.0" r="11" fill="#c98f8f"/>
<circle cx="672.1" cy="2254.6" r="11" fill="#ff0000"/>
<path d="M706.9 2260.9V2287.9M701.4 2260.9H712.4M701.4 2287.9H712.4" stroke="#ff0000" stroke-width="5" fill="none"/>
<circle cx="706.9" cy="2274.4" r="11" fill="#ff0000"/>
<circle cx="736.2" cy="2296.7" r="11" fill="#ff0000"/>
<circle cx="742.1" cy="2306.4" r="11" fill="#ff0000"/>
<path d="M624.9 2313.4V2340.4M619.4 2313.4H630.4M619.4 2340.4H630.4" stroke="#ff0000" stroke-width="5" fill="none"/>
<circle cx="624.9" cy="2326.9" r="11" fill="#ff0000"/>
<circle cx="629.2" cy="2331.5" r="11" fill="#ff0000"/>
<path d="M675.4 2333.7V2358.7M669.9 2333.7H680.9M669.9 2358.7H680.9" stroke="#ff0000" stroke-width="5" fill="none"/>
<circle cx="675.4" cy="2346.2" r="11" fill="#ff0000"/>
<circle cx="667.7" cy="2353.8" r="11" fill="#ff0000"/>
<path d="M611.6 2357.7H636.6M611.6 2352.2V2363.2M636.6 2352.2V2363.2" stroke="#ff0000" stroke-width="5" fill="none"/>
<path d="M624.1 2345.2V2370.2M618.6 2345.2H629.6M618.6 2370.2H629.6" stroke="#ff0000" stroke-width="5" fill="none"/>
<circle cx="624.1" cy="2357.7" r="11" fill="#ff0000"/>
<circle cx="608.7" cy="2392.8" r="11" fill="#ff0000"/>
<path d="M626.7 2385.9H649.7M626.7 2380.4V2391.4M649.7 2380.4V2391.4" stroke="#ff0000" stroke-width="5" fill="none"/>
<path d="M638.2 2374.4V2397.4M632.7 2374.4H643.7M632.7 2397.4H643.7" stroke="#ff0000" stroke-width="5" fill="none"/>
<circle cx="638.2" cy="2385.9" r="11" fill="#ff0000"/>
<circle cx="649.7" cy="2389.7" r="11" fill="#ff0000"/>
<path d="M667.7 2376.7V2397.7M662.2 2376.7H673.2M662.2 2397.7H673.2" stroke="#ff0000" stroke-width="5" fill="none"/>
<circle cx="667.7" cy="2387.2" r="11" fill="#ff0000"/>
<circle cx="729.2" cy="2335.9" r="11" fill="#ff0000"/>
<circle cx="744.6" cy="2337.2" r="11" fill="#ff0000"/>
<circle cx="731.8" cy="2352.6" r="11" fill="#ff0000"/>
<circle cx="742.1" cy="2362.8" r="11" fill="#ff0000"/>
<circle cx="717.7" cy="2370.5" r="11" fill="#ff0000"/>
<circle cx="706.2" cy="2410.3" r="11" fill="#ff0000"/>
<circle cx="749.7" cy="2396.2" r="11" fill="#ff0000"/>
<circle cx="726.7" cy="2429.5" r="11" fill="#ff0000"/>
<circle cx="758.7" cy="2298.7" r="11" fill="#ff0000"/>
<path d="M1027.6 2200.5H1080.6M1027.6 2195.0V2206.0M1080.6 2195.0V2206.0" stroke="#ff0000" stroke-width="5" fill="none"/>
<circle cx="1054.1" cy="2200.5" r="11" fill="#ff0000"/>
<circle cx="892.1" cy="2219.7" r="11" fill="#ff0000"/>
<path d="M949.0 2240.8V2261.8M943.5 2240.8H954.5M943.5 2261.8H954.5" stroke="#ff0000" stroke-width="5" fill="none"/>
<circle cx="949.0" cy="2251.3" r="11" fill="#ff0000"/>
<circle cx="894.6" cy="2269.7" r="11" fill="#ff0000"/>
<circle cx="940.8" cy="2280.8" r="11" fill="#ff0000"/>
<path d="M809.2 2269.0V2294.0M803.7 2269.0H814.7M803.7 2294.0H814.7" stroke="#ff0000" stroke-width="5" fill="none"/>
<circle cx="809.2" cy="2281.5" r="11" fill="#ff0000"/>
<path d="M927.4 2284.8V2317.8M921.9 2284.8H932.9M921.9 2317.8H932.9" stroke="#ff0000" stroke-width="5" fill="none"/>
<circle cx="927.4" cy="2301.3" r="11" fill="#ff0000"/>
<circle cx="1011.3" cy="2298.7" r="11" fill="#ff0000"/>
<path d="M1076.3 2283.3H1105.3M1076.3 2277.8V2288.8M1105.3 2277.8V2288.8" stroke="#ff0000" stroke-width="5" fill="none"/>
<path d="M1090.8 2268.8V2297.8M1085.3 2268.8H1096.3M1085.3 2297.8H1096.3" stroke="#ff0000" stroke-width="5" fill="none"/>
<circle cx="1090.8" cy="2283.3" r="11" fill="#ff0000"/>
<path d="M1076.8 2314.1H1109.8M1076.8 2308.6V2319.6M1109.8 2308.6V2319.6" stroke="#ff0000" stroke-width="5" fill="none"/>
<path d="M1093.3 2289.6V2338.6M1087.8 2289.6H1098.8M1087.8 2338.6H1098.8" stroke="#ff0000" stroke-width="5" fill="none"/>
<circle cx="1093.3" cy="2314.1" r="11" fill="#ff0000"/>
<path d="M763.8 2287.8V2314.8M758.3 2287.8H769.3M758.3 2314.8H769.3" stroke="#ff0000" stroke-width="5" fill="none"/>
<circle cx="763.8" cy="2301.3" r="11" fill="#ff0000"/>
<path d="M870.0 2326.9H909.0M870.0 2321.4V2332.4M909.0 2321.4V2332.4" stroke="#ff0000" stroke-width="5" fill="none"/>
<circle cx="889.5" cy="2326.9" r="11" fill="#ff0000"/>
<path d="M830.4 2339.7H861.4M830.4 2334.2V2345.2M861.4 2334.2V2345.2" stroke="#ff0000" stroke-width="5" fill="none"/>
<circle cx="845.9" cy="2339.7" r="11" fill="#ff0000"/>
<circle cx="797.2" cy="2330.8" r="11" fill="#ff0000"/>
<circle cx="802.3" cy="2341.0" r="11" fill="#ff0000"/>
<circle cx="770.3" cy="2329.5" r="11" fill="#ff0000"/>
<circle cx="767.7" cy="2342.3" r="11" fill="#ff0000"/>
<circle cx="877.9" cy="2343.6" r="11" fill="#ff0000"/>
<circle cx="902.3" cy="2345.4" r="11" fill="#ff0000"/>
<circle cx="793.3" cy="2369.2" r="11" fill="#ff0000"/>
<circle cx="811.3" cy="2366.7" r="11" fill="#ff0000"/>
<circle cx="770.3" cy="2382.1" r="11" fill="#ff0000"/>
<circle cx="783.1" cy="2396.2" r="11" fill="#ff0000"/>
<circle cx="833.1" cy="2388.5" r="11" fill="#ff0000"/>
<circle cx="836.9" cy="2406.4" r="11" fill="#ff0000"/>
<circle cx="785.6" cy="2416.7" r="11" fill="#ff0000"/>
<circle cx="785.6" cy="2437.2" r="11" fill="#ff0000"/>
<path d="M880.5 2366.7V2389.7M875.0 2366.7H886.0M875.0 2389.7H886.0" stroke="#ff0000" stroke-width="5" fill="none"/>
<circle cx="880.5" cy="2378.2" r="11" fill="#ff0000"/>
<circle cx="872.8" cy="2396.2" r="11" fill="#ff0000"/>
<circle cx="893.3" cy="2406.4" r="11" fill="#ff0000"/>
<path d="M965.6 2339.7H1000.6M965.6 2334.2V2345.2M1000.6 2334.2V2345.2" stroke="#ff0000" stroke-width="5" fill="none"/>
<path d="M983.1 2328.2V2351.2M977.6 2328.2H988.6M977.6 2351.2H988.6" stroke="#ff0000" stroke-width="5" fill="none"/>
<circle cx="983.1" cy="2339.7" r="11" fill="#ff0000"/>
<circle cx="972.8" cy="2355.1" r="11" fill="#ff0000"/>
<circle cx="962.6" cy="2362.8" r="11" fill="#ff0000"/>
<circle cx="949.7" cy="2373.1" r="11" fill="#ff0000"/>
<path d="M933.1 2383.3H956.1M933.1 2377.8V2388.8M956.1 2377.8V2388.8" stroke="#ff0000" stroke-width="5" fill="none"/>
<circle cx="944.6" cy="2383.3" r="11" fill="#ff0000"/>
<circle cx="1026.7" cy="2344.9" r="11" fill="#ff0000"/>
<path d="M1033.1 2356.4V2379.4M1027.6 2356.4H1038.6M1027.6 2379.4H1038.6" stroke="#ff0000" stroke-width="5" fill="none"/>
<circle cx="1033.1" cy="2367.9" r="11" fill="#ff0000"/>
<circle cx="1019.0" cy="2347.4" r="11" fill="#ff0000"/>
<path d="M951.6 2411.5H978.6M951.6 2406.0V2417.0M978.6 2406.0V2417.0" stroke="#ff0000" stroke-width="5" fill="none"/>
<circle cx="965.1" cy="2411.5" r="11" fill="#ff0000"/>
<circle cx="939.5" cy="2425.6" r="11" fill="#ff0000"/>
<circle cx="926.7" cy="2432.1" r="11" fill="#ff0000"/>
<circle cx="1125.4" cy="2410.3" r="11" fill="#ff0000"/>
<circle cx="1158.7" cy="2421.8" r="11" fill="#ff0000"/>
<circle cx="831.8" cy="2426.9" r="11" fill="#ff0000"/>
<path d="M1327.5 2289.4H1372.5M1327.5 2283.9V2294.9M1372.5 2283.9V2294.9" stroke="#ff0000" stroke-width="5" fill="none"/>
<path d="M1350.0 2263.9V2314.9M1344.5 2263.9H1355.5M1344.5 2314.9H1355.5" stroke="#ff0000" stroke-width="5" fill="none"/>
<circle cx="1350.0" cy="2289.4" r="11" fill="#ff0000"/>
<path d="M1175.5 2389.5H1206.5M1175.5 2384.0V2395.0M1206.5 2384.0V2395.0" stroke="#ff0000" stroke-width="5" fill="none"/>
<path d="M1191.0 2372.0V2407.0M1185.5 2372.0H1196.5M1185.5 2407.0H1196.5" stroke="#ff0000" stroke-width="5" fill="none"/>
<circle cx="1191.0" cy="2389.5" r="11" fill="#ff0000"/>
<path d="M1270.5 2158.7H1321.5M1270.5 2153.2V2164.2M1321.5 2153.2V2164.2" stroke="#ff0000" stroke-width="5" fill="none"/>
<circle cx="1296.0" cy="2158.7" r="11" fill="#ff0000"/>
<circle cx="786.2" cy="2415.4" r="11" fill="#ff0000"/>
<circle cx="786.2" cy="2435.9" r="11" fill="#ff0000"/>
<circle cx="812.6" cy="2467.9" r="11" fill="#ff0000"/>
<circle cx="781.8" cy="2521.8" r="11" fill="#ff0000"/>
<path d="M916.9 2481.1V2506.1M911.4 2481.1H922.4M911.4 2506.1H922.4" stroke="#ff0000" stroke-width="5" fill="none"/>
<circle cx="916.9" cy="2493.6" r="11" fill="#ff0000"/>
<circle cx="1057.2" cy="2485.4" r="11" fill="#ff0000"/>
<path d="M952.1 2412.8H979.1M952.1 2407.3V2418.3M979.1 2407.3V2418.3" stroke="#ff0000" stroke-width="5" fill="none"/>
<circle cx="965.6" cy="2412.8" r="11" fill="#ff0000"/>
<circle cx="942.6" cy="2425.6" r="11" fill="#ff0000"/>
<circle cx="929.7" cy="2433.3" r="11" fill="#ff0000"/>
<circle cx="893.8" cy="2410.3" r="11" fill="#ff0000"/>
<circle cx="968.2" cy="2451.3" r="11" fill="#ff0000"/>
<circle cx="572.1" cy="2372.1" r="11" fill="#78004c"/>
<circle cx="592.1" cy="2421.8" r="11" fill="#78004c"/>
<circle cx="568.2" cy="2431.5" r="11" fill="#78004c"/>
<circle cx="683.1" cy="2387.9" r="11" fill="#78004c"/>
<circle cx="654.9" cy="2398.2" r="11" fill="#78004c"/>
<circle cx="679.2" cy="2411.0" r="11" fill="#78004c"/>
<circle cx="716.4" cy="2397.4" r="11" fill="#78004c"/>
<circle cx="729.2" cy="2421.8" r="11" fill="#78004c"/>
<circle cx="717.7" cy="2438.5" r="11" fill="#78004c"/>
<circle cx="719.0" cy="2409.0" r="11" fill="#78004c"/>
<circle cx="444.1" cy="2496.9" r="11" fill="#78004c"/>
<circle cx="562.1" cy="2445.4" r="11" fill="#78004c"/>
<circle cx="630.0" cy="2473.6" r="11" fill="#78004c"/>
<circle cx="635.1" cy="2511.8" r="11" fill="#78004c"/>
<path d="M1401.4 2371.0H1421.4M1401.4 2365.5V2376.5M1421.4 2365.5V2376.5" stroke="#ff00ff" stroke-width="5" fill="none"/>
<path d="M1411.4 2359.0V2383.0M1405.9 2359.0H1416.9M1405.9 2383.0H1416.9" stroke="#ff00ff" stroke-width="5" fill="none"/>
<circle cx="1411.4" cy="2371.0" r="11" fill="#ff00ff"/>
<path d="M1539.5 2336.9V2369.9M1534.0 2336.9H1545.0M1534.0 2369.9H1545.0" stroke="#ff00ff" stroke-width="5" fill="none"/>
<circle cx="1539.5" cy="2353.4" r="11" fill="#ff00ff"/>
<circle cx="1586.3" cy="2370.5" r="11" fill="#ff00ff"/>
<path d="M1639.5 2438.3H1684.5M1639.5 2432.8V2443.8M1684.5 2432.8V2443.8" stroke="#ff00ff" stroke-width="5" fill="none"/>
<circle cx="1662.0" cy="2438.3" r="11" fill="#ff00ff"/>
<path d="M1808.1 2246.0H1851.1M1808.1 2240.5V2251.5M1851.1 2240.5V2251.5" stroke="#ff00ff" stroke-width="5" fill="none"/>
<path d="M1829.6 2234.5V2257.5M1824.1 2234.5H1835.1M1824.1 2257.5H1835.1" stroke="#ff00ff" stroke-width="5" fill="none"/>
<circle cx="1829.6" cy="2246.0" r="11" fill="#ff00ff"/>
<path d="M2082.5 2220.4H2121.5M2082.5 2214.9V2225.9M2121.5 2214.9V2225.9" stroke="#ff00ff" stroke-width="5" fill="none"/>
<path d="M2102.0 2202.9V2237.9M2096.5 2202.9H2107.5M2096.5 2237.9H2107.5" stroke="#ff00ff" stroke-width="5" fill="none"/>
<circle cx="2102.0" cy="2220.4" r="11" fill="#ff00ff"/>
<path d="M2059.5 2406.0H2088.5M2059.5 2400.5V2411.5M2088.5 2400.5V2411.5" stroke="#ff00ff" stroke-width="5" fill="none"/>
<path d="M2074.0 2391.5V2420.5M2068.5 2391.5H2079.5M2068.5 2420.5H2079.5" stroke="#ff00ff" stroke-width="5" fill="none"/>
<circle cx="2074.0" cy="2406.0" r="11" fill="#ff00ff"/>
<path d="M1468.5 2511.2H1510.5M1468.5 2505.7V2516.7M1510.5 2505.7V2516.7" stroke="#ff00ff" stroke-width="5" fill="none"/>
<path d="M1489.5 2495.7V2526.7M1484.0 2495.7H1495.0M1484.0 2526.7H1495.0" stroke="#ff00ff" stroke-width="5" fill="none"/>
<circle cx="1489.5" cy="2511.2" r="11" fill="#ff00ff"/>
<circle cx="1086.2" cy="2299.5" r="11" fill="#000000"/>
<path d="M1004.9 2317.0V2342.0M999.4 2317.0H1010.4M999.4 2342.0H1010.4" stroke="#000000" stroke-width="5" fill="none"/>
<circle cx="1004.9" cy="2329.5" r="11" fill="#000000"/>
<path d="M1070.3 2324.0V2353.0M1064.8 2324.0H1075.8M1064.8 2353.0H1075.8" stroke="#000000" stroke-width="5" fill="none"/>
<circle cx="1070.3" cy="2338.5" r="11" fill="#000000"/>
<circle cx="932.3" cy="2347.4" r="11" fill="#000000"/>
<path d="M1098.2 2357.2H1119.2M1098.2 2351.7V2362.7M1119.2 2351.7V2362.7" stroke="#000000" stroke-width="5" fill="none"/>
<circle cx="1108.7" cy="2357.2" r="11" fill="#000000"/>
<circle cx="1132.3" cy="2373.1" r="11" fill="#000000"/>
<circle cx="831.3" cy="2366.7" r="11" fill="#000000"/>
<circle cx="979.2" cy="2365.4" r="11" fill="#000000"/>
<circle cx="965.1" cy="2379.5" r="11" fill="#000000"/>
<circle cx="954.9" cy="2385.9" r="11" fill="#000000"/>
<path d="M955.3 2388.5H990.3M955.3 2383.0V2394.0M990.3 2383.0V2394.0" stroke="#000000" stroke-width="5" fill="none"/>
<circle cx="972.8" cy="2388.5" r="11" fill="#000000"/>
<circle cx="1015.6" cy="2384.6" r="11" fill="#000000"/>
<path d="M1043.1 2382.1H1064.1M1043.1 2376.6V2387.6M1064.1 2376.6V2387.6" stroke="#000000" stroke-width="5" fill="none"/>
<circle cx="1053.6" cy="2382.1" r="11" fill="#000000"/>
<circle cx="1080.5" cy="2392.3" r="11" fill="#000000"/>
<circle cx="1088.2" cy="2393.6" r="11" fill="#000000"/>
<circle cx="880.5" cy="2387.2" r="11" fill="#000000"/>
<circle cx="913.8" cy="2391.0" r="11" fill="#000000"/>
<circle cx="903.6" cy="2400.0" r="11" fill="#000000"/>
<circle cx="826.7" cy="2393.6" r="11" fill="#000000"/>
<circle cx="836.9" cy="2406.4" r="11" fill="#000000"/>
<circle cx="871.5" cy="2414.1" r="11" fill="#000000"/>
<circle cx="788.2" cy="2416.7" r="11" fill="#000000"/>
<circle cx="821.5" cy="2416.7" r="11" fill="#000000"/>
<circle cx="831.8" cy="2423.1" r="11" fill="#000000"/>
<circle cx="808.7" cy="2434.6" r="11" fill="#000000"/>
<circle cx="870.3" cy="2434.6" r="11" fill="#000000"/>
<circle cx="886.9" cy="2430.8" r="11" fill="#000000"/>
<circle cx="903.6" cy="2435.9" r="11" fill="#000000"/>
<circle cx="913.8" cy="2437.2" r="11" fill="#000000"/>
<circle cx="995.9" cy="2412.8" r="11" fill="#000000"/>
<circle cx="972.8" cy="2434.6" r="11" fill="#000000"/>
<circle cx="1048.5" cy="2415.4" r="11" fill="#000000"/>
<path d="M1062.0 2415.4H1081.0M1062.0 2409.9V2420.9M1081.0 2409.9V2420.9" stroke="#000000" stroke-width="5" fill="none"/>
<path d="M1071.5 2401.9V2428.9M1066.0 2401.9H1077.0M1066.0 2428.9H1077.0" stroke="#000000" stroke-width="5" fill="none"/>
<circle cx="1071.5" cy="2415.4" r="11" fill="#000000"/>
<path d="M1071.0 2416.7H1090.0M1071.0 2411.2V2422.2M1090.0 2411.2V2422.2" stroke="#000000" stroke-width="5" fill="none"/>
<path d="M1080.5 2403.2V2430.2M1075.0 2403.2H1086.0M1075.0 2430.2H1086.0" stroke="#000000" stroke-width="5" fill="none"/>
<circle cx="1080.5" cy="2416.7" r="11" fill="#000000"/>
<circle cx="1106.2" cy="2420.5" r="11" fill="#000000"/>
<circle cx="1101.0" cy="2434.6" r="11" fill="#000000"/>
<circle cx="1111.3" cy="2442.3" r="11" fill="#000000"/>
<circle cx="755.4" cy="2446.9" r="11" fill="#000000"/>
<circle cx="750.3" cy="2464.1" r="11" fill="#000000"/>
<circle cx="787.9" cy="2416.7" r="11" fill="#000000"/>
<circle cx="807.9" cy="2434.6" r="11" fill="#000000"/>
<circle cx="787.4" cy="2453.8" r="11" fill="#000000"/>
<circle cx="824.6" cy="2417.9" r="11" fill="#000000"/>
<circle cx="832.3" cy="2407.7" r="11" fill="#000000"/>
<circle cx="823.3" cy="2461.5" r="11" fill="#000000"/>
<circle cx="834.9" cy="2475.6" r="11" fill="#000000"/>
<circle cx="832.3" cy="2489.7" r="11" fill="#000000"/>
<circle cx="770.0" cy="2488.5" r="11" fill="#000000"/>
<circle cx="784.1" cy="2505.6" r="11" fill="#000000"/>
<circle cx="795.1" cy="2536.7" r="11" fill="#000000"/>
<circle cx="856.7" cy="2461.5" r="11" fill="#000000"/>
<circle cx="875.9" cy="2476.9" r="11" fill="#000000"/>
<circle cx="870.8" cy="2412.8" r="11" fill="#000000"/>
<circle cx="870.8" cy="2435.9" r="11" fill="#000000"/>
<circle cx="886.2" cy="2430.8" r="11" fill="#000000"/>
<circle cx="904.1" cy="2438.5" r="11" fill="#000000"/>
<circle cx="914.4" cy="2438.5" r="11" fill="#000000"/>
<circle cx="904.1" cy="2455.1" r="11" fill="#000000"/>
<path d="M932.6 2452.6H975.6M932.6 2447.1V2458.1M975.6 2447.1V2458.1" stroke="#000000" stroke-width="5" fill="none"/>
<path d="M954.1 2419.1V2486.1M948.6 2419.1H959.6M948.6 2486.1H959.6" stroke="#000000" stroke-width="5" fill="none"/>
<circle cx="954.1" cy="2452.6" r="11" fill="#000000"/>
<circle cx="972.1" cy="2433.3" r="11" fill="#000000"/>
<circle cx="973.3" cy="2478.2" r="11" fill="#000000"/>
<circle cx="928.5" cy="2495.4" r="11" fill="#000000"/>
<circle cx="962.6" cy="2509.0" r="11" fill="#000000"/>
<circle cx="899.0" cy="2517.4" r="11" fill="#000000"/>
<circle cx="947.7" cy="2532.1" r="11" fill="#000000"/>
<circle cx="882.3" cy="2541.5" r="11" fill="#000000"/>
<circle cx="920.8" cy="2558.5" r="11" fill="#000000"/>
<circle cx="1007.9" cy="2483.3" r="11" fill="#000000"/>
<circle cx="1027.2" cy="2477.7" r="11" fill="#000000"/>
<circle cx="1029.0" cy="2502.1" r="11" fill="#000000"/>
<circle cx="1008.7" cy="2533.3" r="11" fill="#000000"/>
<circle cx="856.7" cy="2612.1" r="11" fill="#000000"/>
<circle cx="1057.9" cy="2610.8" r="11" fill="#000000"/>
<path d="M1107.2 2493.9V2518.9M1101.7 2493.9H1112.7M1101.7 2518.9H1112.7" stroke="#000000" stroke-width="5" fill="none"/>
<circle cx="1107.2" cy="2506.4" r="11" fill="#000000"/>
<circle cx="995.1" cy="2412.8" r="11" fill="#000000"/>
<circle cx="1047.7" cy="2416.7" r="11" fill="#000000"/>
<circle cx="1105.4" cy="2421.8" r="11" fill="#000000"/>
<circle cx="1100.3" cy="2435.9" r="11" fill="#000000"/>
<circle cx="1110.5" cy="2446.2" r="11" fill="#000000"/>
<circle cx="1136.2" cy="2475.6" r="11" fill="#000000"/>
<circle cx="738.7" cy="2395.0" r="11" fill="#000000"/>
<circle cx="755.0" cy="2445.0" r="11" fill="#000000"/>
<path d="M1262.4 2327.0H1283.4M1262.4 2321.5V2332.5M1283.4 2321.5V2332.5" stroke="#000000" stroke-width="5" fill="none"/>
<circle cx="1272.9" cy="2327.0" r="11" fill="#000000"/>
<path d="M1227.5 2374.8H1260.5M1227.5 2369.3V2380.3M1260.5 2369.3V2380.3" stroke="#000000" stroke-width="5" fill="none"/>
<path d="M1244.0 2350.3V2399.3M1238.5 2350.3H1249.5M1238.5 2399.3H1249.5" stroke="#000000" stroke-width="5" fill="none"/>
<circle cx="1244.0" cy="2374.8" r="11" fill="#000000"/>
<circle cx="1191.4" cy="2404.0" r="11" fill="#000000"/>
<circle cx="1180.6" cy="2425.7" r="11" fill="#000000"/>
<circle cx="1335.5" cy="2449.5" r="11" fill="#000000"/>
<circle cx="1202.0" cy="2478.2" r="11" fill="#000000"/>
<circle cx="1244.3" cy="2481.5" r="11" fill="#000000"/>
<circle cx="1209.6" cy="2501.8" r="11" fill="#000000"/>
<circle cx="1141.5" cy="2475.0" r="11" fill="#000000"/>
<line x1="1208.8" y1="2153.5" x2="1440.4" y2="2310.6" stroke="#000" stroke-width="5"/>
<line x1="1361.5" y1="2138" x2="1538.5" y2="2324.6" stroke="#000" stroke-width="5"/>
<line x1="1564.6" y1="2129.6" x2="1587.7" y2="2340.5" stroke="#000" stroke-width="5"/>
<line x1="1287.6" y1="2287" x2="1389" y2="2368.8" stroke="#000" stroke-width="5"/>
<line x1="1410.5" y1="2421.8" x2="1178.6" y2="2625.2" stroke="#000" stroke-width="5"/>
<line x1="1451" y1="2467.5" x2="1198" y2="2668.8" stroke="#000" stroke-width="5"/>
<line x1="2022" y1="2162" x2="2074.6" y2="2214.6" stroke="#000" stroke-width="5"/>
<line x1="2055.4" y1="2419" x2="1952.7" y2="2524.4" stroke="#000" stroke-width="5"/>
<rect x="366.5" y="1712.5" width="1765.0" height="1238.0" fill="none" stroke="#000" stroke-width="13" shape-rendering="crispEdges"/>
<path d="M366.5 2702.9h18M2131.5 2702.9h-18M366.5 2455.3h36M2131.5 2455.3h-36M366.5 2207.7h18M2131.5 2207.7h-18M366.5 1960.1h36M2131.5 1960.1h-36M507.7 2950.5v-18M507.7 1712.5v18M648.9 2950.5v-18M648.9 1712.5v18M790.1 2950.5v-18M790.1 1712.5v18M931.3 2950.5v-18M931.3 1712.5v18M1072.5 2950.5v-36M1072.5 1712.5v36M1213.7 2950.5v-18M1213.7 1712.5v18M1354.9 2950.5v-18M1354.9 1712.5v18M1496.1 2950.5v-18M1496.1 1712.5v18M1637.3 2950.5v-18M1637.3 1712.5v18M1778.5 2950.5v-36M1778.5 1712.5v36M1919.7 2950.5v-18M1919.7 1712.5v18M2060.9 2950.5v-18M2060.9 1712.5v18" stroke="#000" stroke-width="5" fill="none" shape-rendering="crispEdges"/>
<text class="ser" transform="translate(1056.4,3266.3) scale(0.8987,1)" font-size="76.4" fill="#000">(</text>
<text class="serb" transform="translate(1084.7,3263.8) scale(0.8545,1)" font-size="77.3" fill="#000">B</text>
<text class="ser" transform="translate(1131.4,3266.3) scale(0.9561,1)" font-size="76.4" fill="#000">)</text>
<text transform="translate(179.1,1972.8) scale(0.9687,1)" font-size="103" fill="#000">0.3</text>
<text transform="translate(181.8,2468.0) scale(0.9738,1)" font-size="103" fill="#000">0.2</text>
<text transform="translate(182.2,2933.8) scale(0.8839,1)" font-size="103" fill="#000">0.1</text>
<text transform="translate(341.6,3051.1) scale(0.9544,1)" font-size="103" fill="#000">3.0</text>
<text transform="translate(1046.2,3051.1) scale(0.9709,1)" font-size="103" fill="#000">4.0</text>
<text transform="translate(1740.8,3051.8) scale(0.9738,1)" font-size="103" fill="#000">5.0</text>
<text transform="translate(865.8,3152.0) scale(0.9865,1)" font-size="102" fill="#000">J(0) [nsec/rad]</text>
<text transform="translate(127.0,2735.2) rotate(-90) scale(0.9383,1)" font-size="98" fill="#000">J(</text>
<text transform="translate(127.1,2650.8) rotate(-90) scale(0.8989,1)" font-size="85.8" fill="#000">ω</text>
<text transform="translate(158.8,2586.7) rotate(-90) scale(0.9099,1)" font-size="76.7" fill="#000">N</text>
<text transform="translate(127.0,2532.2) rotate(-90) scale(0.9721,1)" font-size="98" fill="#000">) [nsec/rad]</text>
<text transform="translate(1152.6,2099.8) scale(0.9636,1)" font-size="52" fill="#ff00ff">R74 (S138A)</text>
<text transform="translate(1461.6,2095.6) scale(0.9661,1)" font-size="52" fill="#ff00ff">L160 (S138A)</text>
<text transform="translate(962.5,2162.5) scale(0.9675,1)" font-size="52" fill="#000">A116(wild)</text>
<text transform="translate(973.0,2257.2) scale(0.9619,1)" font-size="52" fill="#ff00ff">C113 (S138A)</text>
<text transform="translate(1795.5,2142.7) scale(0.9650,1)" font-size="52" fill="#ff00ff">S154 (S138A)</text>
<text transform="translate(1640.0,2224.0) scale(0.9631,1)" font-size="52" fill="#ff00ff">G120 (S138A)</text>
<text transform="translate(1603.6,2300.4) scale(0.9772,1)" font-size="52" fill="#000">R74 (wild)</text>
<text transform="translate(1868.9,2343.5) scale(0.9669,1)" font-size="52" fill="#000">W73 (wild)</text>
<text transform="translate(1620.1,2380.0) scale(0.9731,1)" font-size="52" fill="#000">L160(wild)</text>
<text transform="translate(1599.2,2501.0) scale(0.9574,1)" font-size="52" fill="#ff00ff">V62 (S138A)</text>
<text transform="translate(1456.9,2578.5) scale(0.9575,1)" font-size="52" fill="#ff00ff">W73 (S138A)</text>
<text transform="translate(1812.5,2597.0) scale(0.9619,1)" font-size="52" fill="#ff00ff">S148 (S138A)</text>
<text transform="translate(907.1,2670.3) scale(0.9760,1)" font-size="52" fill="#000">L60 (wild)</text>
<text transform="translate(1137.6,2718.8) scale(0.9719,1)" font-size="52" fill="#000">C113 (wild)</text>
</g>
</svg></body></html>
